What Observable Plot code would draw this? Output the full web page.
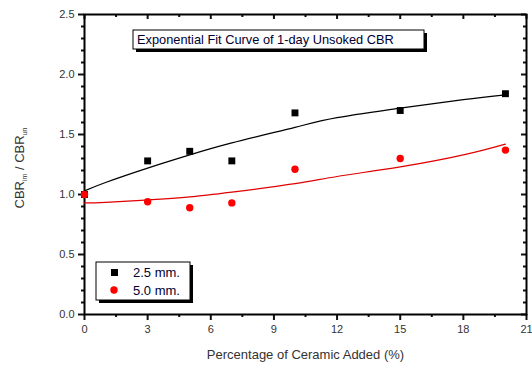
<!DOCTYPE html>
<html><head><meta charset="utf-8">
<script src="https://cdn.jsdelivr.net/npm/d3@7"></script>
<script src="https://cdn.jsdelivr.net/npm/@observablehq/plot@0.6"></script>
<style>body{margin:0;background:#fff;font-family:"Liberation Sans",Arial,sans-serif} #chart{position:relative}</style>
</head><body><div id="chart"></div>
<script>
// measured data
const ceramicPct = [0, 3, 5, 7, 10, 15, 20];
const cbr25 = [1.0, 1.28, 1.36, 1.28, 1.68, 1.70, 1.84];
const cbr50 = [1.0, 0.94, 0.89, 0.93, 1.21, 1.30, 1.37];
// fit curves
const fitX = [0, 1, 3, 5, 7, 10, 12, 15, 18, 20];
const fit25 = [1.03, 1.10, 1.22, 1.33, 1.43, 1.56, 1.64, 1.72, 1.79, 1.83];
const fit50 = [0.93, 0.935, 0.955, 0.98, 1.02, 1.09, 1.15, 1.23, 1.33, 1.42];
// ticks
const xMajor = [0, 3, 6, 9, 12, 15, 18, 21];
const xMinor = [1.5, 4.5, 7.5, 10.5, 13.5, 16.5, 19.5];
const yMajor = [0, 0.5, 1.0, 1.5, 2.0, 2.5];
const yMinor = [0.1, 0.2, 0.3, 0.4, 0.6, 0.7, 0.8, 0.9, 1.1, 1.2, 1.3, 1.4, 1.6, 1.7, 1.8, 1.9, 2.1, 2.2, 2.3, 2.4];
const seriesNames = ["2.5 mm.", "5.0 mm."];
const titleText = "Exponential Fit Curve of 1-day Unsoked CBR";
const xLabel = "Percentage of Ceramic Added (%)";

const pts25 = ceramicPct.map((x, i) => ({x, y: cbr25[i]}));
const pts50 = ceramicPct.map((x, i) => ({x, y: cbr50[i]}));
const line25 = fitX.map((x, i) => ({x, y: fit25[i]}));
const line50 = fitX.map((x, i) => ({x, y: fit50[i]}));

const W = 532, H = 374, mL = 84, mR = 6, mT = 14, mB = 60;
const fw = W - mL - mR, fh = H - mT - mB;
// tick rules along the frame edges (insets in pixels)
const tc = "#111", tw = 2;
const bottomTicks = (vals, len) => Plot.ruleX(vals, {x: d => d, insetTop: fh, insetBottom: -len, stroke: tc, strokeWidth: tw});
const topTicks = (vals, len) => Plot.ruleX(vals, {x: d => d, insetTop: 0, insetBottom: fh - len, stroke: tc, strokeWidth: tw});
const leftTicks = (vals, len) => Plot.ruleY(vals, {y: d => d, insetLeft: -len, insetRight: fw, stroke: tc, strokeWidth: tw});
const rightTicks = (vals, len) => Plot.ruleY(vals, {y: d => d, insetLeft: fw - len, insetRight: 0, stroke: tc, strokeWidth: tw});

const font = "'Liberation Sans', Arial, sans-serif";
const chart = Plot.plot({
  width: W, height: H,
  marginLeft: mL, marginRight: mR, marginTop: mT, marginBottom: mB,
  style: {fontFamily: font, background: "#fff"},
  x: {domain: [0, 21], label: null},
  y: {domain: [0, 2.5], label: null},
  marks: [
    Plot.axisX({ticks: xMajor, tickSize: 0, tickPadding: 11, tickFormat: d => String(d), fontSize: 11, fill: "#333", label: null}),
    Plot.axisY({ticks: yMajor, tickSize: 0, tickPadding: 10, tickFormat: d3.format(".1f"), fontSize: 11, fill: "#333", label: null}),
    bottomTicks(xMajor, 6), bottomTicks(xMinor, 3),
    topTicks(xMajor, 5), topTicks(xMinor, 3),
    leftTicks(yMajor, 6), leftTicks(yMinor, 3),
    rightTicks(yMajor, 5), rightTicks(yMinor, 3),
    Plot.frame({stroke: "black", strokeWidth: 2}),
    Plot.line(line25, {x: "x", y: "y", stroke: "black", strokeWidth: 1.2, curve: "natural"}),
    Plot.line(line50, {x: "x", y: "y", stroke: "#e00000", strokeWidth: 1.2, curve: "natural"}),
    Plot.dot(pts25, {x: "x", y: "y", symbol: "square", r: 3.9, fill: "black", stroke: "none"}),
    Plot.dot(pts50, {x: "x", y: "y", symbol: "circle", r: 3.7, fill: "#ff0000", stroke: "none"}),
    Plot.text([xLabel], {frameAnchor: "bottom", dy: 44, text: d => d, fontSize: 13, fill: "#333"})
  ]
});
document.getElementById("chart").appendChild(chart);

const svg = d3.select(chart);
// y label with subscripts
const yl = svg.append("text")
  .attr("transform", "translate(24,168) rotate(-90)")
  .attr("text-anchor", "middle")
  .attr("font-family", font).attr("font-size", 13).attr("fill", "#333");
yl.append("tspan").text("CBR");
yl.append("tspan").attr("font-size", 7).attr("dy", 3).text("im");
yl.append("tspan").attr("dy", -3).text(" / CBR");
yl.append("tspan").attr("font-size", 7).attr("dy", 3).text("un");

// title box
const tg = svg.append("g").attr("text-anchor", "start");
tg.append("rect").attr("x", 136).attr("y", 33).attr("width", 291).attr("height", 19).attr("fill", "black");
tg.append("rect").attr("x", 133).attr("y", 30).attr("width", 291).attr("height", 19).attr("fill", "white").attr("stroke", "black").attr("stroke-width", 1);
tg.append("text").attr("x", 137).attr("y", 44).attr("text-anchor", "start").attr("font-family", font).attr("font-size", 12.8).attr("fill", "#000030").text(titleText);

// legend
const lg = svg.append("g").attr("text-anchor", "start");
lg.append("rect").attr("x", 99).attr("y", 265).attr("width", 94).attr("height", 38).attr("fill", "black");
lg.append("rect").attr("x", 96).attr("y", 262).attr("width", 94).attr("height", 38).attr("fill", "white").attr("stroke", "black").attr("stroke-width", 1);
lg.append("rect").attr("x", 111).attr("y", 269).attr("width", 7).attr("height", 7).attr("fill", "black");
lg.append("circle").attr("cx", 114).attr("cy", 290).attr("r", 3.7).attr("fill", "#ff0000");
lg.append("text").attr("x", 133).attr("y", 277).attr("text-anchor", "start").attr("font-family", font).attr("font-size", 13).attr("fill", "#000030").text(seriesNames[0]);
lg.append("text").attr("x", 133).attr("y", 295).attr("text-anchor", "start").attr("font-family", font).attr("font-size", 13).attr("fill", "#000030").text(seriesNames[1]);
</script>
</body></html>
